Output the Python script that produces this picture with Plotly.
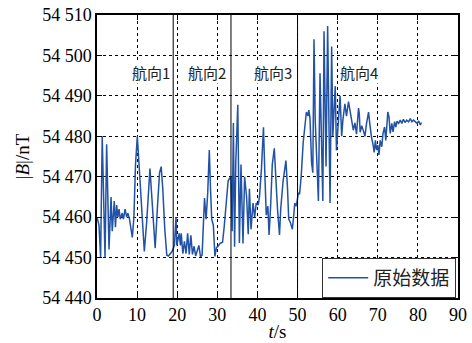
import plotly.graph_objects as go

# Time (s) and total field |B| (nT)
t = [0.0, 0.5, 0.9, 1.3, 2.0, 2.4, 3.0, 3.5, 3.8, 4.3, 4.6, 4.9, 5.2, 5.5, 5.8, 6.3, 6.6, 7.0, 7.4, 7.7,
     8.1, 8.8, 9.2, 9.6, 10.05, 10.7, 11.3, 11.8, 12.4, 12.97, 13.2, 13.6, 14.5, 15.1, 15.6, 16.0, 16.4, 16.9,
     17.4, 17.8, 18.3, 18.7, 19.3, 19.7, 19.9, 20.2, 20.5, 20.8, 21.0, 21.4, 21.8, 22.2, 22.6, 23.0, 23.4,
     23.8, 24.2, 24.6, 25.0, 25.4, 25.8, 26.2, 26.8, 27.2, 27.6, 28.0, 28.3, 28.6, 29.0, 29.4, 29.8, 30.1,
     30.7, 31.3, 31.7, 32.3, 32.7, 33.0, 33.4, 33.7, 34.0, 34.3, 34.6, 35.1, 35.4, 35.5, 35.9, 36.2, 36.4,
     36.8, 37.3, 37.7, 38.0, 38.4, 38.9, 39.3, 39.7, 40.2, 40.5, 41.0, 41.5, 41.9, 42.2, 42.6, 42.9, 43.3,
     43.7, 44.2, 44.6, 45.0, 45.5, 45.8, 46.4, 47.1, 47.5, 47.8, 48.2, 48.7, 49.1, 49.3, 49.7, 50.2, 50.5,
     50.9, 51.4, 51.9, 52.2, 52.6, 52.8, 53.1, 53.5, 53.8, 54.1, 54.4, 54.7, 55.2, 55.6, 56.0, 56.3, 56.6,
     56.9, 57.1, 57.5, 57.8, 58.1, 58.5, 58.8, 59.1, 59.4, 59.7, 60.1, 60.6, 61.0, 61.3, 61.8, 62.2, 62.7,
     63.1, 63.5, 63.9, 64.3, 64.7, 65.2, 65.4, 65.6, 66.0, 66.4, 66.8, 67.2, 67.7, 68.0, 68.4, 68.9, 69.1,
     69.4, 69.7, 70.0, 70.3, 70.6, 71.0, 71.3, 71.7, 72.0, 72.5, 72.8, 73.1, 73.5, 73.8, 74.2, 74.5, 74.8,
     75.2, 75.6, 76.0, 76.4, 76.8, 77.2, 77.7, 78.1, 78.5, 78.9, 79.4, 79.8, 80.2, 80.6, 80.9]
B = [54460, 54458, 54450, 54480, 54450, 54478, 54452, 54465, 54456.5, 54464, 54457.5, 54463, 54460, 54462,
     54459.5, 54461, 54459.5, 54462, 54460, 54461, 54459.5, 54455, 54460, 54473, 54480, 54469, 54457, 54451.5,
     54459, 54469, 54472, 54466, 54452.3, 54463, 54471, 54472.5, 54467, 54457, 54450.6, 54450.4, 54451,
     54451.5, 54453, 54460, 54453, 54455, 54456, 54453, 54456, 54451, 54454, 54451, 54456, 54450.8, 54455.5,
     54450.8, 54452.8, 54450.4, 54451.6, 54453, 54450.2, 54450.6, 54464.7, 54459.5, 54466, 54476.6, 54467,
     54459.5, 54458, 54450.3, 54452.5, 54452.7, 54453.5, 54453.8, 54457.5, 54466, 54469, 54469.5, 54470,
     54456.5, 54483.3, 54452.7, 54473.6, 54487.8, 54469, 54453.6, 54473, 54460, 54453.5, 54470, 54465,
     54455.8, 54467, 54457, 54463.5, 54460, 54463.5, 54463, 54465, 54472, 54482.2, 54469, 54460.5, 54462.7,
     54455.6, 54463, 54473, 54477, 54469, 54462, 54455.6, 54462, 54469, 54474, 54467, 54459.5, 54458.7,
     54457, 54461, 54463.5, 54462.7, 54466, 54465.7, 54470, 54478.4, 54484, 54486, 54485, 54486.5, 54484.5,
     54473.4, 54471, 54504, 54484, 54477.5, 54464, 54495.6, 54473.4, 54464, 54506, 54480, 54472.5, 54507.3,
     54476, 54463.5, 54502.2, 54480, 54486.5, 54492.4, 54476.5, 54484, 54490, 54480, 54484, 54488, 54485,
     54488.6, 54486.5, 54484, 54481.5, 54483.3, 54480.5, 54487, 54485.5, 54481, 54482.6, 54481.4, 54480,
     54483.2, 54486, 54483.2, 54480, 54477.5, 54476, 54479, 54476.6, 54477.8, 54475.4, 54479, 54477.4,
     54480.7, 54482.3, 54479, 54486, 54484.8, 54480.7, 54483.2, 54481.1, 54483.6, 54482.3, 54483.7, 54483.2,
     54484, 54483.2, 54484.2, 54483.4, 54484, 54483.6, 54484.4, 54483.6, 54484, 54483.6, 54483.2, 54483.8,
     54482.8, 54483.4]

# Heading segment boundaries (s) and segment labels
boundaries = [19.0, 33.4, 50.0]
seg_labels = ["航向1", "航向2", "航向3", "航向4"]
seg_label_t = [13.5, 27.4, 43.9, 65.3]

x_ticks = [0, 10, 20, 30, 40, 50, 60, 70, 80, 90]
y_ticks = [54440, 54450, 54460, 54470, 54480, 54490, 54500, 54510]
y_ticktext = ["54 440", "54 450", "54 460", "54 470", "54 480", "54 490", "54 500", "54 510"]

SERIF = "Liberation Serif, Times New Roman, serif"

fig = go.Figure()
fig.add_trace(go.Scatter(x=t, y=B, mode="lines", name="原始数据",
                         line=dict(color="#2152a6", width=1.5)))

for b in boundaries:
    fig.add_shape(type="line", x0=b, x1=b, y0=0, y1=1, xref="x", yref="paper",
                  line=dict(color="black", width=1))

for lab, xt in zip(seg_labels, seg_label_t):
    fig.add_annotation(x=xt, y=54495.7, text=lab, showarrow=False,
                       font=dict(family="Noto Sans CJK SC", size=15, color="#222"),
                       bgcolor="white", borderpad=0)

axis_common = dict(showgrid=True, gridcolor="black", griddash="3px,3px", gridwidth=1,
                   showline=True, linecolor="black", linewidth=1.5, mirror="ticks",
                   ticks="inside", ticklen=5, tickcolor="black", tickwidth=1,
                   zeroline=False, automargin=False,
                   tickfont=dict(family=SERIF, size=18, color="black"))

fig.update_xaxes(range=[0, 90], tickvals=x_ticks,
                 title=dict(text="<i>t</i>/s", font=dict(family=SERIF, size=19, color="black"), standoff=0),
                 **axis_common)
fig.update_yaxes(range=[54440, 54510], tickvals=y_ticks, ticktext=y_ticktext,
                 title=dict(text="|<i>B</i>|/nT", font=dict(family=SERIF, size=19, color="black"), standoff=8),
                 **axis_common)

fig.update_layout(
    width=472, height=343,
    margin=dict(l=97, r=14, t=15, b=45, autoexpand=False),
    plot_bgcolor="white", paper_bgcolor="white",
    showlegend=True,
    legend=dict(x=0.995, y=0.0, xanchor="right", yanchor="bottom",
                bgcolor="white", bordercolor="#333", borderwidth=1,
                font=dict(family="Noto Sans CJK SC", size=19, color="#222"),
                itemwidth=40, tracegroupgap=0),
)

fig.write_html("out.html", config={"displayModeBar": False},
               post_script="document.body.style.margin='0';document.body.style.overflow='hidden';")
